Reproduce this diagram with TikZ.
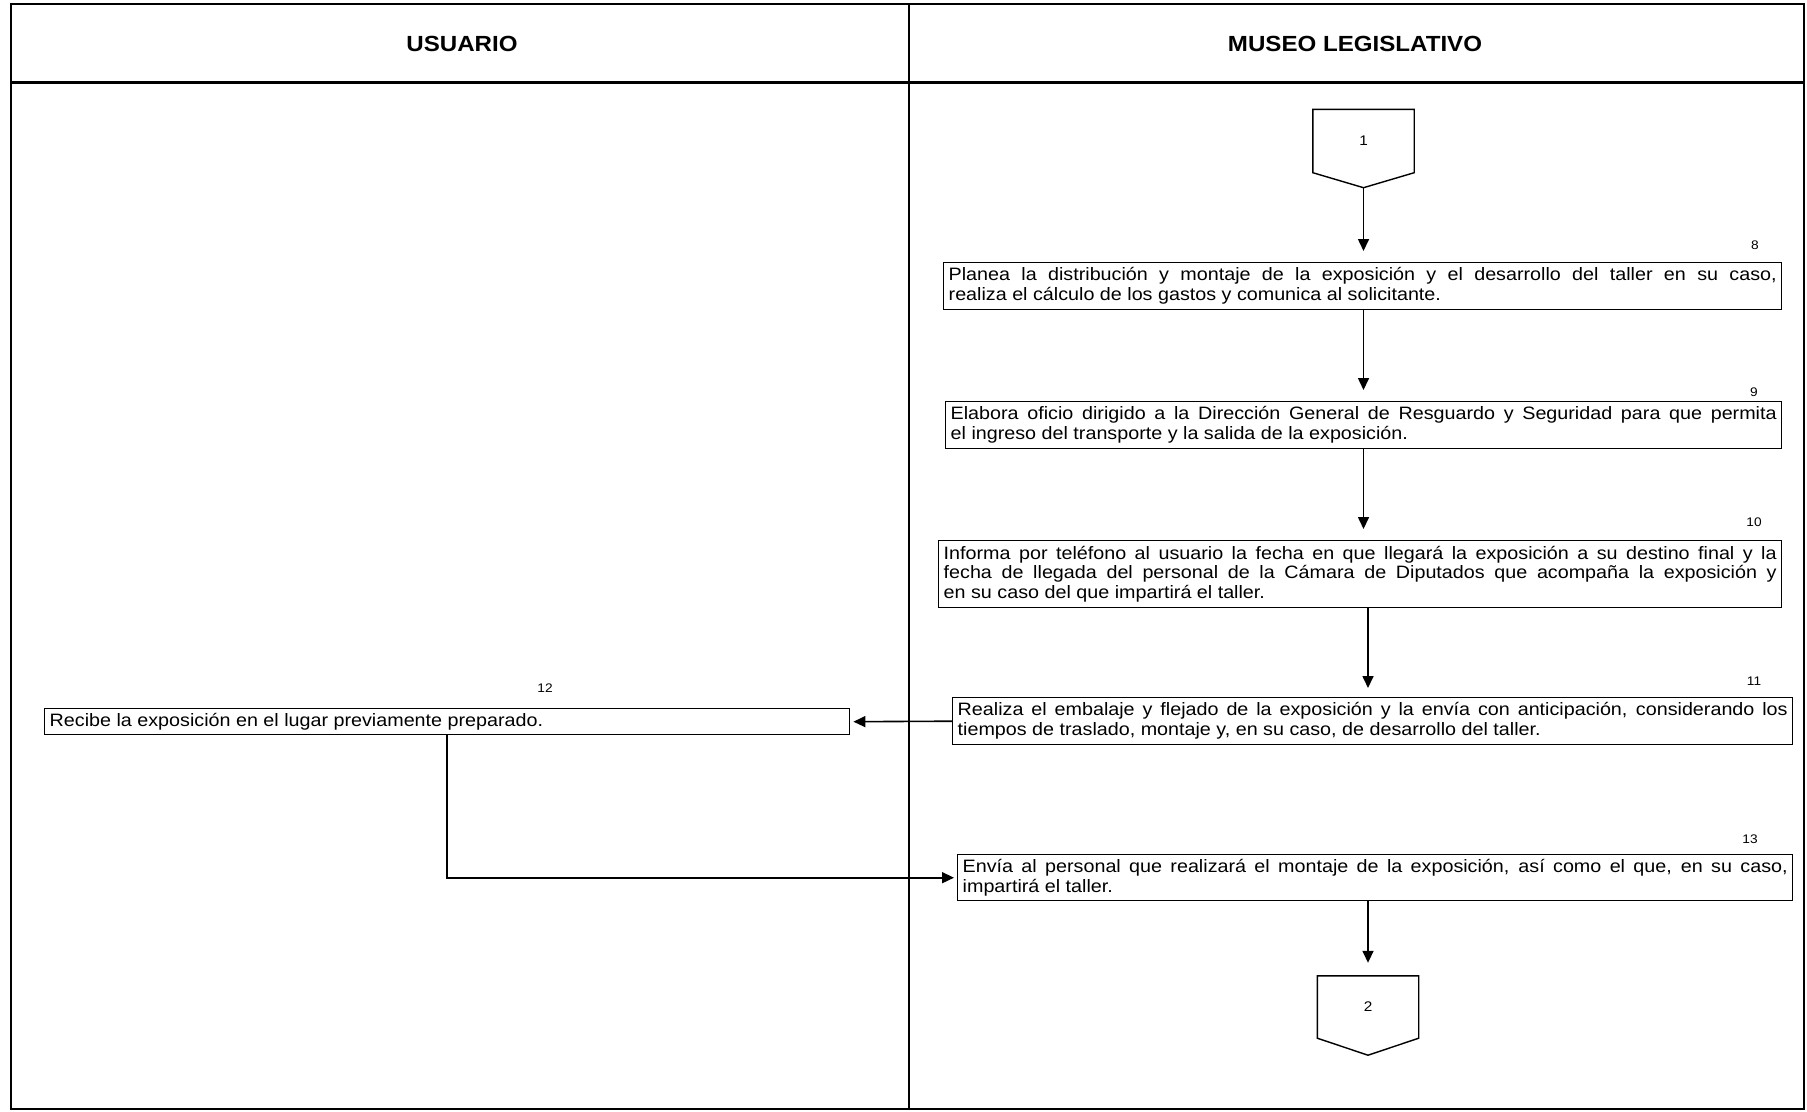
\documentclass[tikz,border=0pt]{standalone}
\usepackage{fontspec}
\setmainfont{Liberation Sans}[FakeStretch=1.1]
\usetikzlibrary{arrows.meta,positioning,calc}

\begin{document}
\begin{tikzpicture}[
  x=1bp, y=-1bp,
  lane/.style={font=\fontsize{22}{24}\selectfont\bfseries},
  proc/.style={draw, line width=1.4bp, anchor=north west, inner xsep=5bp,
    inner ysep=2bp, align=justify, font=\fontsize{18}{20}\selectfont},
  num/.style={font=\fontsize{12.5}{13}\selectfont},
  conn/.style={minimum width=101bp, inner sep=0pt, font=\fontsize{14}{15}\selectfont},
  arr/.style={-{Triangle[length=12bp,width=11bp]}, line width=1.6bp}
]
\useasboundingbox (0,0) rectangle (1807,1111);

% --- frame and lanes ---
\draw[line width=2bp] (11,4) rectangle (1804,1109);
\draw[line width=3bp] (11,82) -- (1804,82);
\draw[line width=1.6bp] (909,4) -- (909,1109);
\node[lane] (usr) at (462,44) {USUARIO};
\node[lane] (mus) at (1355,44) {MUSEO LEGISLATIVO};

% --- off-page connectors ---
\node[conn, minimum height=63bp] (c1) at (1363.5,141) {1};
\coordinate (c1tip) at ($(c1.south)+(0,15)$);
\draw[line width=1.4bp] (c1.north west) -- (c1.north east) -- (c1.south east)
  -- (c1tip) -- (c1.south west) -- cycle;

\node[conn, minimum height=62bp] (c2) at (1368,1007) {2};
\coordinate (c2tip) at ($(c2.south)+(0,17)$);
\draw[line width=1.4bp] (c2.north west) -- (c2.north east) -- (c2.south east)
  -- (c2tip) -- (c2.south west) -- cycle;

% --- activities ---
\node[proc, text width=828bp, minimum height=47bp] (b8) at (943,262) {%
  Planea la distribución y montaje de la exposición y el desarrollo del taller en su caso,\linebreak
  realiza el cálculo de los gastos y comunica al solicitante.};
\node[proc, text width=826bp, minimum height=47bp] (b9) at (945,401) {%
  Elabora oficio dirigido a la Dirección General de Resguardo y Seguridad para que permita\linebreak
  el ingreso del transporte y la salida de la exposición.};
\node[proc, text width=833bp, minimum height=67bp] (b10) at (938,540) {%
  Informa por teléfono al usuario la fecha en que llegará la exposición a su destino final y la\linebreak
  fecha de llegada del personal de la Cámara de Diputados que acompaña la exposición y\linebreak
  en su caso del que impartirá el taller.};
\node[proc, text width=830bp, minimum height=47bp] (b11) at (952,697) {%
  Realiza el embalaje y flejado de la exposición y la envía con anticipación, considerando los\linebreak
  tiempos de traslado, montaje y, en su caso, de desarrollo del taller.};
\node[proc, text width=795bp, minimum height=26bp] (b12) at (44,708) {%
  Recibe la exposición en el lugar previamente preparado.};
\node[proc, text width=825bp, minimum height=46bp] (b13) at (957,854) {%
  Envía al personal que realizará el montaje de la exposición, así como el que, en su caso,\linebreak
  impartirá el taller.};

% --- step numbers ---
\node[num] (n8) at (1755,245) {8};
\node[num] (n9) at (1754,392) {9};
\node[num] (n10) at (1754,522) {10};
\node[num] (n11) at (1754,681) {11};
\node[num] (n12) at (545,688) {12};
\node[num] (n13) at (1750,839) {13};

% --- flow ---
\draw[arr, shorten >=11bp] (c1tip) -- (b8.north -| c1tip);
\draw[arr, shorten >=11bp] (b8.south -| c1tip) -- (b9.north -| c1tip);
\draw[arr, shorten >=11bp] (b9.south -| c1tip) -- (b10.north -| c1tip);
\draw[arr, shorten >=9bp] (b10.south -| c2.north) -- (b11.north -| c2.north);
\draw[arr, shorten >=3bp] (b11.west) -- (b12.east);
\draw[arr, shorten >=3bp] (b12.south) |- (b13.west);
\draw[arr, shorten >=13bp] (b13.south -| c2.north) -- (c2.north);
\end{tikzpicture}
\end{document}
